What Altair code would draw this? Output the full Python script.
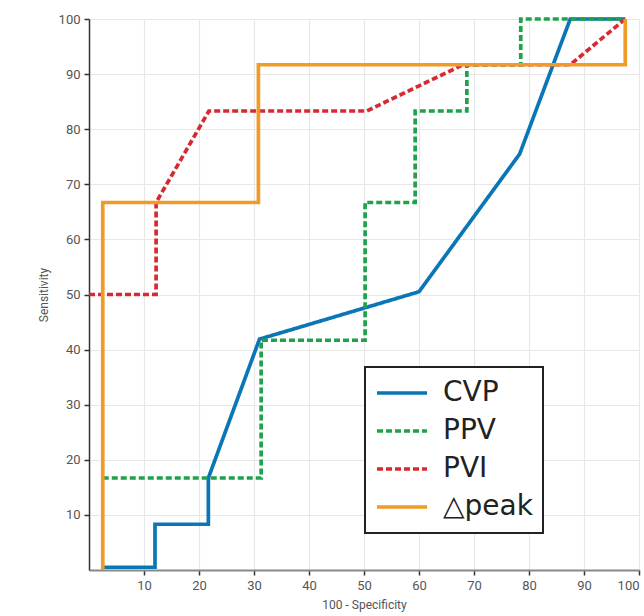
import altair as alt
import pandas as pd

series_names = ["CVP", "PPV", "PVI", "△peak"]

cvp_x = [2.5, 12.0, 12.0, 21.7, 21.7, 31.0, 60.0, 78.3, 87.5, 97.5]
cvp_y = [0.5, 0.5, 8.3, 8.3, 16.7, 41.9, 50.5, 75.5, 100.0, 100.0]

ppv_x = [2.5, 31.3, 31.3, 50.2, 50.2, 59.3, 59.3, 68.7, 68.7, 78.5, 78.5, 97.5]
ppv_y = [16.7, 16.7, 41.7, 41.7, 66.7, 66.7, 83.3, 83.3, 91.7, 91.7, 100.0, 100.0]

pvi_x = [0.0, 12.2, 12.2, 21.8, 50.5, 68.0, 87.5, 97.5]
pvi_y = [50.0, 50.0, 66.7, 83.3, 83.3, 91.7, 91.7, 100.0]

peak_x = [2.5, 2.5, 30.8, 30.8, 97.5, 97.5]
peak_y = [0.0, 66.7, 66.7, 91.7, 91.7, 100.0]

tick_values = [10, 20, 30, 40, 50, 60, 70, 80, 90, 100]
colors = ["#0a76b6", "#1ea24c", "#d62a32", "#f09a28"]
dashes = [[1, 0], [6, 3], [6, 3], [1, 0]]

rows = []
for name, xs, ys in zip(series_names, [cvp_x, ppv_x, pvi_x, peak_x], [cvp_y, ppv_y, pvi_y, peak_y]):
    for i, (x, y) in enumerate(zip(xs, ys)):
        rows.append({"series": name, "x": x, "y": y, "i": i,
                     "z": series_names.index(name)})
df = pd.DataFrame(rows)

font = "Roboto"
legend_font = "DejaVu Sans"

chart = alt.Chart(df).mark_line(strokeWidth=3.7, strokeCap="butt", strokeJoin="miter").encode(
    x=alt.X("x:Q", scale=alt.Scale(domain=[0, 100], nice=False),
            axis=alt.Axis(values=tick_values, title="100 - Specificity",
                          domainColor="#888888", domainWidth=2,
                          tickColor="#333333", tickSize=5, tickWidth=1.5,
                          labelColor="#555555", labelFontSize=13, labelFont=font,
                          labelPadding=4, titleFont=font, titleFontSize=12,
                          titleFontWeight="normal", titleColor="#555555",
                          titlePadding=7, gridColor="#e8e8e8", gridWidth=1.2)),
    y=alt.Y("y:Q", scale=alt.Scale(domain=[0, 100], nice=False),
            axis=alt.Axis(values=tick_values, title="Sensitivity",
                          domainColor="#333333", domainWidth=1.5,
                          tickColor="#333333", tickSize=5, tickWidth=1.5,
                          labelColor="#555555", labelFontSize=13, labelFont=font,
                          labelPadding=4, titleFont=font, titleFontSize=12,
                          titleFontWeight="normal", titleColor="#555555",
                          titlePadding=8, gridColor="#e8e8e8", gridWidth=1.2)),
    color=alt.Color("series:N", scale=alt.Scale(domain=series_names, range=colors),
                    legend=alt.Legend(title=None, orient="none", legendX=276, legendY=348,
                                      symbolType="stroke", symbolSize=2500,
                                      symbolStrokeWidth=3.7, labelFontSize=28,
                                      labelFont=legend_font, labelColor="#222222",
                                      strokeColor="#222222", padding=10,
                                      fillColor="white", clipHeight=32, rowPadding=6,
                                      labelOffset=14, labelLimit=300)),
    strokeDash=alt.StrokeDash("series:N", scale=alt.Scale(domain=series_names, range=dashes),
                              legend=alt.Legend(title=None, orient="none", legendX=276, legendY=348)),
    order="i:Q",
    detail="z:N",
).properties(
    width=550, height=551,
    autosize=alt.AutoSizeParams(type="none"),
    padding={"left": 89, "top": 19, "right": 5, "bottom": 46},
).configure_view(stroke=None).configure_legend(strokeWidth=2)

chart.save("out.html", embed_options={"renderer": "svg", "actions": False})
